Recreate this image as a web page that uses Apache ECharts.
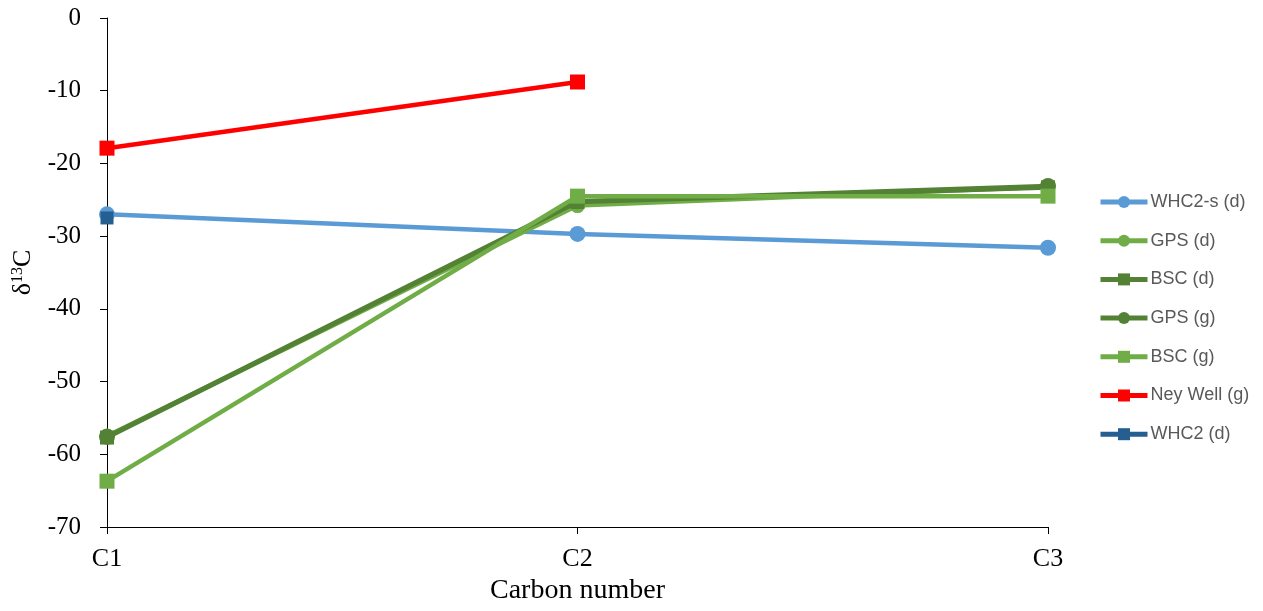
<!DOCTYPE html>
<html>
<head>
<meta charset="utf-8">
<script src="https://cdn.jsdelivr.net/npm/echarts@6/dist/echarts.min.js"></script>
<style>html,body{margin:0;padding:0;background:#fff}#c{width:1263px;height:611px}</style>
</head>
<body>
<div id="c"></div>
<script>
const categories = ['C1', 'C2', 'C3'];
const whc2s_d = [-27.0, -29.7, -31.6];
const gps_d = [-57.5, -25.8, -23.2];
const bsc_d = [-57.7, -25.3, -23.3];
const gps_g = [-57.6, -25.2, -23.1];
const bsc_g = [-63.7, -24.5, -24.5];
const neyWell_g = [-17.9, -8.8, null];
const whc2_d = [-27.5, null, null];
const yTicks = [-70, -60, -50, -40, -30, -20, -10, 0];

const chart = echarts.init(document.getElementById('c'));
function s(name, data, color, symbol, size, z) {
  return {
    name, type: 'line', data, symbol, symbolSize: size, z: z,
    lineStyle: { color, width: 4.5 }, itemStyle: { color },
    emphasis: { disabled: true }, animation: false
  };
}
chart.setOption({
  animation: false,
  grid: { left: 107, right: 215, top: 18, bottom: 84, containLabel: false },
  legend: {
    orient: 'vertical', left: 1093, top: 188, itemWidth: 47, itemHeight: 15, itemGap: 20.7,
    lineStyle: { width: 5 },
    textStyle: { fontFamily: 'Liberation Sans', fontSize: 18, color: '#595959', padding: [0, 0, 0, -2] },
    data: ['WHC2-s (d)', 'GPS (d)', 'BSC (d)', 'GPS (g)', 'BSC (g)', 'Ney Well (g)', 'WHC2 (d)']
  },
  xAxis: {
    type: 'category', data: categories, boundaryGap: false,
    name: 'Carbon number', nameLocation: 'middle', nameGap: 44,
    nameTextStyle: { fontFamily: 'Liberation Serif', fontSize: 28, color: '#000' },
    axisLine: { onZero: false, lineStyle: { color: '#000', width: 1 } },
    axisTick: { show: true, length: 7, lineStyle: { color: '#000' } },
    axisLabel: { fontFamily: 'Liberation Serif', fontSize: 26, color: '#000', margin: 19 },
    splitLine: { show: false }
  },
  yAxis: {
    type: 'value', min: yTicks[0], max: yTicks[yTicks.length - 1], interval: 10,
    name: '{a|δ}{sup|13}{a|C}', nameLocation: 'middle', nameGap: 71, nameRotate: 90,
    nameTextStyle: {
      rich: {
        a: { fontFamily: 'Liberation Serif', fontSize: 26, color: '#000' },
        sup: { fontFamily: 'Liberation Serif', fontSize: 16, color: '#000', verticalAlign: 'top', padding: [0, 0, 10, 0] }
      }
    },
    axisLine: { show: true, lineStyle: { color: '#000', width: 1 } },
    axisTick: { show: true, length: 7, lineStyle: { color: '#000' } },
    axisLabel: { fontFamily: 'Liberation Serif', fontSize: 25, color: '#000', margin: 26 },
    splitLine: { show: false }
  },
  series: [
    s('WHC2-s (d)', whc2s_d, '#5B9BD5', 'circle', 16, 2),
    s('GPS (d)', gps_d, '#70AD47', 'circle', 15, 3),
    s('BSC (d)', bsc_d, '#548235', 'rect', 14, 4),
    s('GPS (g)', gps_g, '#548235', 'circle', 16, 5),
    s('BSC (g)', bsc_g, '#70AD47', 'rect', 15, 6),
    s('Ney Well (g)', neyWell_g, '#FF0000', 'rect', 15, 7),
    s('WHC2 (d)', whc2_d, '#255E91', 'rect', 13, 8)
  ]
});
</script>
</body>
</html>
